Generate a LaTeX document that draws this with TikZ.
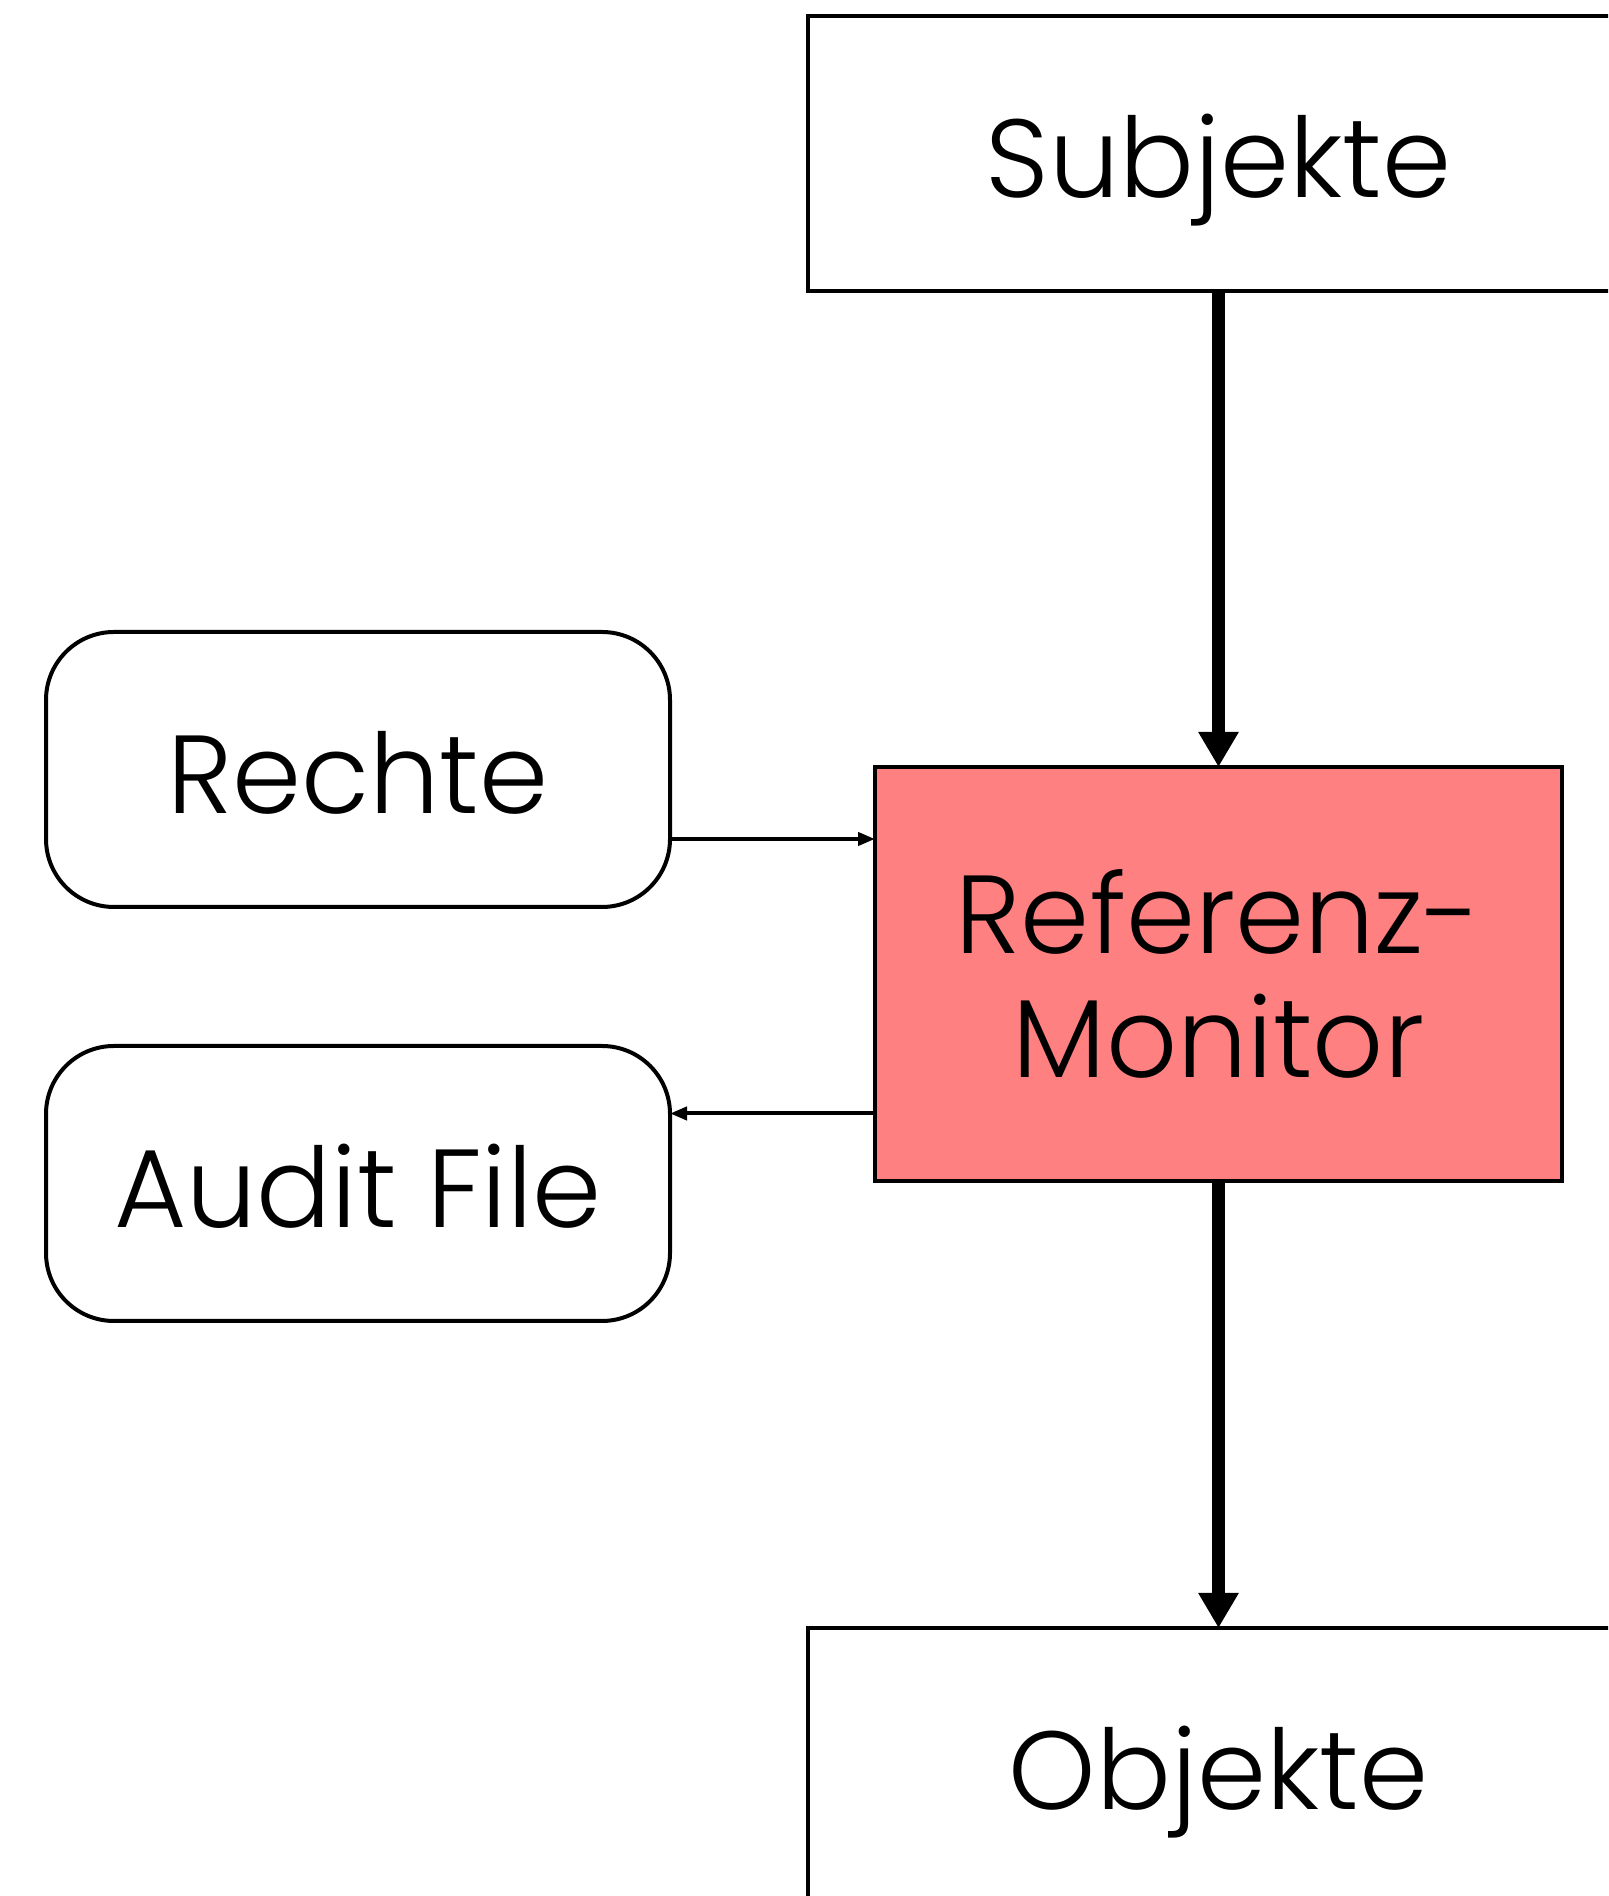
\documentclass[tikz,border=0pt]{standalone}
\usepackage{fontspec}
\setmainfont{Poppins}[UprightFont=* Light]
\usepackage{xcolor}
\usepackage{tikz}
\usetikzlibrary{arrows.meta,positioning}

\definecolor{rmred}{HTML}{FF8080}

\begin{document}
\begin{tikzpicture}[
  x=1pt, y=1pt,
  base/.style={draw, line width=2pt, outer sep=0pt, inner sep=0pt, font=\fontsize{55.5}{62}\selectfont},
  box/.style={base, minimum width=411pt, minimum height=137.5pt, text height=44pt, text depth=0pt},
  rbox/.style={box, rounded corners=34pt, minimum width=312pt},
  mon/.style={base, fill=rmred, minimum width=343.5pt, minimum height=207pt, align=center},
  bigarr/.style={-{Triangle[length=17.5pt,width=19pt]}, line width=6.5pt},
  smallarr/.style={-{Triangle[length=8.5pt,width=6.5pt]}, line width=2pt}
]
\useasboundingbox (0,0) rectangle (804,948);
\clip (0,0) rectangle (804,948);

\node[mon] (rm) at (609.25,461) {Referenz-\\Monitor};
\node[box, above=238pt of rm] (subj) {Subjekte};
\node[box, below=223.5pt of rm] (obj) {Objekte};
\node[rbox] (rechte) at (179,563.25) {Rechte};
\node[rbox, below=69.5pt of rechte] (audit) {Audit File};

\draw[bigarr] (subj) -- (rm);
\draw[bigarr] (rm) -- (obj);
\draw[smallarr] ([yshift=-34.75pt]rechte.east) -- ([yshift=-34.75pt]rechte.east -| rm.west);
\draw[smallarr] ([yshift=35pt]audit.east -| rm.west) -- ([yshift=35pt]audit.east);
\end{tikzpicture}
\end{document}
